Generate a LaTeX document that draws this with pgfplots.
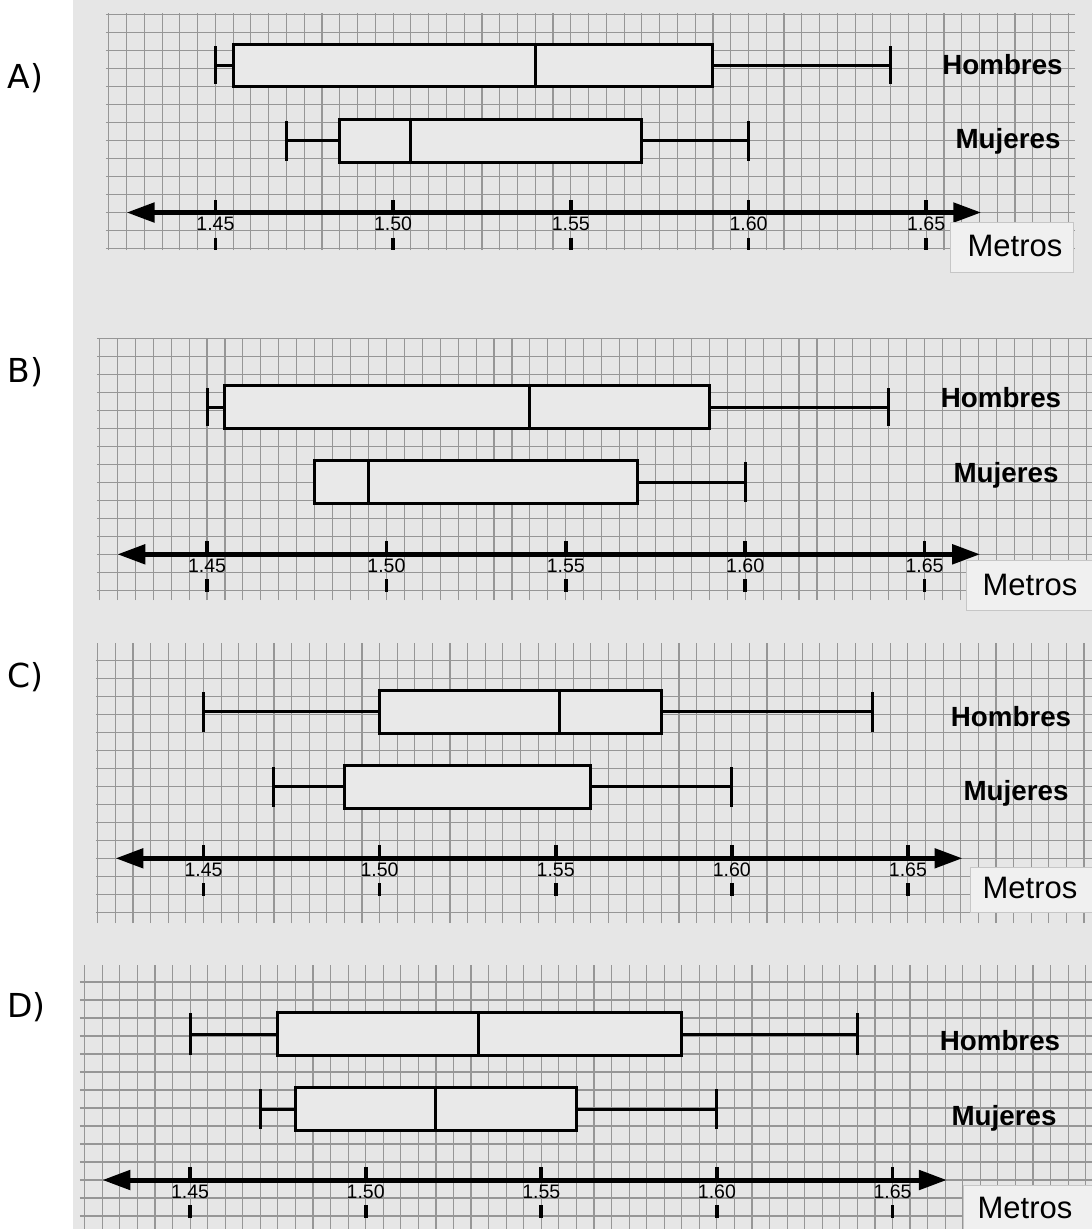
\documentclass[border=0pt]{standalone}
\usepackage{fontspec}
\setmainfont{Liberation Sans}
\newfontfamily\dejavu{DejaVu Sans}
\usepackage{pgfplots}
\pgfplotsset{compat=1.18}
\usepgfplotslibrary{statistics}
\usetikzlibrary{arrows.meta}
\definecolor{bgc}{RGB}{230,230,230}
\definecolor{boxc}{RGB}{233,233,233}
\definecolor{gridc}{RGB}{150,150,150}
\definecolor{mbox}{RGB}{240,240,240}

\newcommand\tlfont{\fontsize{7.8pt}{9pt}\selectfont}
\newcommand\grpfont{\fontsize{11.1pt}{13pt}\selectfont\bfseries}
\newcommand\metfont{\fontsize{12.4pt}{14pt}\selectfont}
\newcommand\letfont{\dejavu\fontsize{13.2pt}{15pt}\selectfont}

\pgfplotsset{
  panel/.style={
    scale only axis, anchor=south west,
    xtick distance=0.005, ytick distance=18,
    grid=major, major grid style={draw=gridc, line width=0.45pt},
    xticklabels={}, yticklabels={},
    tick style={draw=none}, axis line style={draw=none},
    clip=false, unbounded coords=jump,
    boxplot/draw direction=x,
  },
  bx/.style={black, line width=1.2pt, fill=boxc, solid},
}

\newcommand\axisdeco{%
  \addplot[black, line width=2pt,
    {Triangle[length=11.2pt,width=7.6pt]}-{Triangle[length=11.2pt,width=7.6pt]}]
    coordinates {(1.425,0) (1.6655,0)};
  \addplot[black, line width=1.5pt] coordinates {
    (1.45,0)(1.45,13)(1.45,nan)
    (1.50,0)(1.50,13)(1.50,nan)
    (1.55,0)(1.55,13)(1.55,nan)
    (1.60,0)(1.60,13)(1.60,nan)
    (1.65,0)(1.65,13)};
  \addplot[black, line width=1.5pt] coordinates {
    (1.45,-25)(1.45,-37.5)(1.45,nan)
    (1.50,-25)(1.50,-37.5)(1.50,nan)
    (1.55,-25)(1.55,-37.5)(1.55,nan)
    (1.60,-25)(1.60,-37.5)(1.60,nan)
    (1.65,-25)(1.65,-37.5)};
  \node[anchor=base, font=\tlfont, inner sep=0pt] at (axis cs:1.45,-18) {1.45};
  \node[anchor=base, font=\tlfont, inner sep=0pt] at (axis cs:1.50,-18) {1.50};
  \node[anchor=base, font=\tlfont, inner sep=0pt] at (axis cs:1.55,-18) {1.55};
  \node[anchor=base, font=\tlfont, inner sep=0pt] at (axis cs:1.60,-18) {1.60};
  \node[anchor=base, font=\tlfont, inner sep=0pt] at (axis cs:1.65,-18) {1.65};
}

\begin{document}
\begin{tikzpicture}
\fill[white] (0,0) rectangle ({1092*0.4pt},{-1229*0.4pt});
\fill[bgc] ({72.7*0.4pt},0) rectangle ({1092*0.4pt},{-1229*0.4pt});

% ---------- A ----------
\begin{axis}[panel, at={({106*0.4pt},{-250*0.4pt})},
  width=387.6pt, height=94.8pt,
  xmin=1.41922, xmax=1.69187, ymin=-37.5, ymax=199.5]
\addplot[bx, boxplot prepared={lower whisker=1.45, lower quartile=1.455,
  median=1.54, upper quartile=1.59, upper whisker=1.64,
  draw position=147.5, box extend=42, whisker extend=38}] coordinates {};
\addplot[bx, boxplot prepared={lower whisker=1.47, lower quartile=1.485,
  median=1.505, upper quartile=1.57, upper whisker=1.60,
  draw position=72, box extend=43, whisker extend=40}] coordinates {};
\axisdeco
\end{axis}

% ---------- B ----------
\begin{axis}[panel, at={({97*0.4pt},{-600*0.4pt})},
  width=398pt, height=104.8pt,
  xmin=1.41934, xmax=1.69666, ymin=-45.7, ymax=216.3]
\addplot[bx, boxplot prepared={lower whisker=1.45, lower quartile=1.455,
  median=1.54, upper quartile=1.59, upper whisker=1.64,
  draw position=147.3, box extend=42.6, whisker extend=38}] coordinates {};
\addplot[bx, boxplot prepared={lower whisker=1.48, lower quartile=1.48,
  median=1.495, upper quartile=1.57, upper whisker=1.60,
  draw position=72.3, box extend=42.6, whisker extend=40}] coordinates {};
\axisdeco
\end{axis}

% ---------- C ----------
\begin{axis}[panel, at={({96*0.4pt},{-923*0.4pt})},
  width=398.4pt, height=112pt,
  xmin=1.41948, xmax=1.70227, ymin=-64.7, ymax=215.3]
\addplot[bx, boxplot prepared={lower whisker=1.45, lower quartile=1.50,
  median=1.551, upper quartile=1.58, upper whisker=1.64,
  draw position=146.6, box extend=43, whisker extend=40}] coordinates {};
\addplot[bx, boxplot prepared={lower whisker=1.47, lower quartile=1.49,
  median=1.49, upper quartile=1.56, upper whisker=1.60,
  draw position=71.6, box extend=43, whisker extend=40}] coordinates {};
\axisdeco
\end{axis}

% ---------- D ----------
\begin{axis}[panel, at={({80*0.4pt},{-1229*0.4pt})},
  width=404.8pt, height=105.6pt,
  xmin=1.41865, xmax=1.70681, ymin=-49, ymax=215]
\addplot[bx, boxplot prepared={lower whisker=1.45, lower quartile=1.475,
  median=1.532, upper quartile=1.59, upper whisker=1.64,
  draw position=145.7, box extend=43, whisker extend=42}] coordinates {};
\addplot[bx, boxplot prepared={lower whisker=1.47, lower quartile=1.48,
  median=1.52, upper quartile=1.56, upper whisker=1.60,
  draw position=71, box extend=43, whisker extend=40}] coordinates {};
\axisdeco
\end{axis}

% ---------- Metros boxes ----------
\begin{scope}[x=0.4pt, y=-0.4pt]
\filldraw[fill=mbox, draw=gray!45, line width=0.4pt] (950,222) rectangle (1073,272);
\filldraw[fill=mbox, draw=gray!45, line width=0.4pt] (966,560) rectangle (1092,610);
\filldraw[fill=mbox, draw=gray!45, line width=0.4pt] (970,867) rectangle (1092,912);
\filldraw[fill=mbox, draw=gray!45, line width=0.4pt] (963,1185) rectangle (1092,1229);
\node[anchor=base, font=\metfont, inner sep=0pt] at (1015,256) {Metros};
\node[anchor=base, font=\metfont, inner sep=0pt] at (1030,595) {Metros};
\node[anchor=base, font=\metfont, inner sep=0pt] at (1030,898) {Metros};
\node[anchor=base, font=\metfont, inner sep=0pt] at (1025,1218) {Metros};
% group labels
\node[anchor=base, font=\grpfont, inner sep=0pt] at (1002.5,74) {Hombres};
\node[anchor=base, font=\grpfont, inner sep=0pt] at (1008,148) {Mujeres};
\node[anchor=base, font=\grpfont, inner sep=0pt] at (1001,407) {Hombres};
\node[anchor=base, font=\grpfont, inner sep=0pt] at (1006,482) {Mujeres};
\node[anchor=base, font=\grpfont, inner sep=0pt] at (1011,726) {Hombres};
\node[anchor=base, font=\grpfont, inner sep=0pt] at (1016,800) {Mujeres};
\node[anchor=base, font=\grpfont, inner sep=0pt] at (1000,1050) {Hombres};
\node[anchor=base, font=\grpfont, inner sep=0pt] at (1004,1125) {Mujeres};
% option letters
\node[anchor=base west, font=\letfont, inner sep=0pt] at (7,88) {A)};
\node[anchor=base west, font=\letfont, inner sep=0pt] at (7,382) {B)};
\node[anchor=base west, font=\letfont, inner sep=0pt] at (7,687) {C)};
\node[anchor=base west, font=\letfont, inner sep=0pt] at (7,1017) {D)};
\end{scope}

\pgfresetboundingbox
\useasboundingbox (0,0) rectangle ({1092*0.4pt},{-1229*0.4pt});
\end{tikzpicture}
\end{document}
